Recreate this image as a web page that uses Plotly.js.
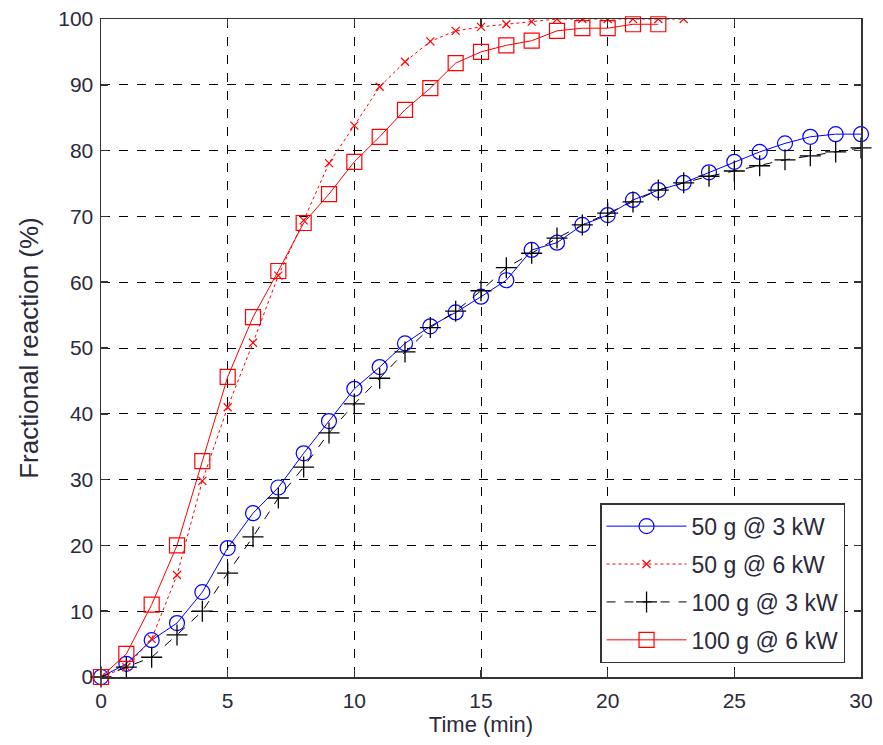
<!DOCTYPE html>
<html>
<head>
<meta charset="utf-8">
<script src="https://cdn.plot.ly/plotly-3.0.1.min.js"></script>
<style>html,body{margin:0;padding:0;background:#fff;}#chart{width:883px;height:745px;}</style>
</head>
<body>
<div id="chart"></div>
<script>
const time = [0,1,2,3,4,5,6,7,8,9,10,11,12,13,14,15,16,17,18,19,20,21,22,23,24,25,26,27,28,29,30];
const g50kw3 = [0,2,5.6,8.2,12.9,19.6,24.9,28.8,34,38.9,43.8,47.1,50.7,53.3,55.4,57.8,60.3,64.9,66,68.7,70.2,72.5,74,75.1,76.7,78.3,79.8,81.1,82.1,82.5,82.5];
const time50kw6 = [0,1,2,3,4,5,6,7,8,9,10,11,12,13,14,15,16,17,18,19,20,21,22,23];
const g50kw6 = [0,1.5,5.8,15.5,29.8,41,50.8,61,69.4,78.1,83.8,89.7,93.5,96.6,98.2,98.8,99.2,99.6,100,100,100,100,100,100];
const g100kw3 = [0,1.5,3,6.4,10,15.8,21.3,27.2,31.9,37.1,41.5,45.4,49.4,53.1,55.6,58.7,62.2,64.4,66.7,68.7,70.5,72.2,74,75.1,76.1,76.9,77.7,78.6,79.2,79.8,80.4];
const time100kw6 = [0,1,2,3,4,5,6,7,8,9,10,11,12,13,14,15,16,17,18,19,20,21,22];
const g100kw6 = [0,3.5,11,20,32.8,45.6,54.7,61.7,69,73.4,78.3,82.1,86.2,89.5,93.3,95,96,96.7,98.2,98.6,98.6,99.2,99.2];
const seriesNames = ["50 g @ 3 kW","50 g @ 6 kW","100 g @ 3 kW","100 g @ 6 kW"];
const xTicks = [0,5,10,15,20,25,30];
const yTicks = [0,10,20,30,40,50,60,70,80,90,100];

const FONT = 'Liberation Sans, Arial, sans-serif';
const TXT = '#2a2a3a';

const traces = [
  {x: time, y: g50kw3, name: seriesNames[0], legendgroup: 'a', mode: 'lines+markers', cliponaxis: false,
   line: {color: '#0000ff', width: 1}, marker: {symbol: 'circle-open', size: 15, color: '#0000ff', line: {width: 1.2}}},
  {x: time50kw6, y: g50kw6, name: seriesNames[1], legendgroup: 'b', mode: 'lines+markers', cliponaxis: true,
   line: {color: '#ff0000', width: 1, dash: 'dot'}, marker: {symbol: 'x-thin-open', size: 8, color: '#ff0000', line: {width: 1.2, color: '#ff0000'}}},
  {x: time, y: g100kw3, name: seriesNames[2], legendgroup: 'c', mode: 'lines+markers', cliponaxis: false,
   line: {color: '#000000', width: 1, dash: 'dash'}, marker: {symbol: 'cross-thin-open', size: 15, color: '#000000', line: {width: 1.3, color: '#000000'}}},
  {x: time100kw6, y: g100kw6, name: seriesNames[3], legendgroup: 'd', mode: 'lines+markers', cliponaxis: false,
   line: {color: '#ff0000', width: 1}, marker: {symbol: 'square-open', size: 15, color: '#ff0000', line: {width: 1.2}}}
];

const axisCommon = {
  showgrid: true, gridcolor: '#000', gridwidth: 1, griddash: 'dash',
  showline: true, linecolor: '#333', linewidth: 1.5, mirror: 'ticks',
  ticks: 'inside', ticklen: 7, tickcolor: '#333', tickwidth: 1.5,
  zeroline: false,
  tickfont: {family: FONT, size: 21, color: TXT}
};

const layout = {
  width: 883, height: 745,
  margin: {l: 101, r: 22, t: 19, b: 68},
  paper_bgcolor: '#fff', plot_bgcolor: '#fff',
  font: {family: FONT, color: TXT},
  xaxis: Object.assign({}, axisCommon, {range: [0, 30], tickvals: xTicks, ticklabelstandoff: 4,
    title: {text: 'Time (min)', font: {family: FONT, size: 22, color: TXT}, standoff: 1}}),
  yaxis: Object.assign({}, axisCommon, {range: [0, 100], tickvals: yTicks, ticklabelstandoff: 2,
    title: {text: 'Fractional reaction (%)', font: {family: FONT, size: 26, color: TXT}, standoff: 12}}),
  showlegend: true,
  legend: {x: 0.979, y: 0.021, xanchor: 'right', yanchor: 'bottom',
    bgcolor: '#fff', bordercolor: '#333', borderwidth: 1.5,
    font: {family: FONT, size: 23, color: TXT},
    itemwidth: 80, tracegroupgap: 5}
};

Plotly.newPlot('chart', traces, layout, {displayModeBar: false, staticPlot: true});
</script>
</body>
</html>
